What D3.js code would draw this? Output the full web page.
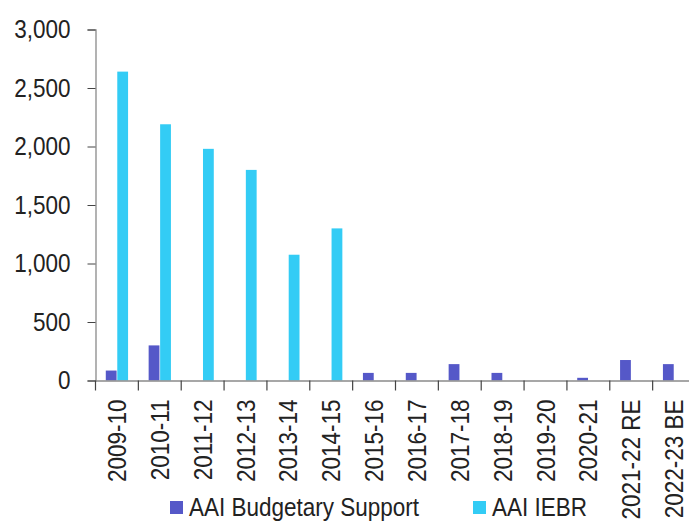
<!DOCTYPE html>
<html><head><meta charset="utf-8">
<script src="https://cdn.jsdelivr.net/npm/d3@7"></script>
<style>body{margin:0;background:#fff}text{font-family:"Liberation Sans",Arial,sans-serif;fill:#222}</style>
</head><body><svg id="c" width="689" height="524"></svg>
<script>
const categories = ["2009-10","2010-11","2011-12","2012-13","2013-14","2014-15","2015-16","2016-17","2017-18","2018-19","2019-20","2020-21","2021-22 RE","2022-23 BE"];
const budgetarySupport = [85,300,0,0,0,0,65,65,140,65,0,23,175,140];
const iebr = [2640,2190,1980,1800,1075,1300,0,0,0,0,0,0,0,0];
const seriesNames = ["AAI Budgetary Support","AAI IEBR"];
const colors = ["#5558C8","#33CCF5"];
const yTicks = [0,500,1000,1500,2000,2500,3000];

const FS = "25px", SX = 0.9;
const svg = d3.select("#c");
const x0 = d3.scaleBand().domain(categories).range([95.5,695.5]).paddingInner(0).paddingOuter(0);
const x1 = d3.scaleBand().domain(seriesNames).range([x0.bandwidth()*0.24, x0.bandwidth()*0.76]).paddingInner(0.06);
const y = d3.scaleLinear().domain([0,3000]).range([380.5,29.5]);
const fmt = d3.format(",");

const rows = categories.map((c,i)=>({c, vals:[budgetarySupport[i], iebr[i]]}));
const g = svg.append("g");
g.selectAll("g.cat").data(rows).join("g").attr("class","cat")
 .attr("transform",d=>`translate(${x0(d.c)},0)`)
 .selectAll("rect").data(d=>d.vals.map((v,j)=>({v,j}))).join("rect")
 .attr("x",d=>x1(seriesNames[d.j])).attr("width",x1.bandwidth())
 .attr("y",d=>y(d.v)).attr("height",d=>y(0)-y(d.v))
 .attr("fill",d=>colors[d.j]);

// y axis
const ya = svg.append("g").attr("transform","translate(95.5,0)")
 .call(d3.axisLeft(y).tickValues(yTicks).tickFormat(fmt).tickSize(8).tickPadding(17));
ya.select(".domain").attr("stroke","#8a8a8a").attr("stroke-width",1.3);
ya.selectAll(".tick line").attr("stroke","#444");
ya.selectAll(".tick text").attr("font-size",FS).attr("fill","#222")
 .attr("font-family","'Liberation Sans',Arial,sans-serif")
 .attr("x",-25/SX).attr("transform",`scale(${SX},1)`);

// x axis
const xa = svg.append("g").attr("transform","translate(0,380.5)")
 .call(d3.axisBottom(x0).tickSize(0).tickSizeOuter(0));
xa.select(".domain").attr("stroke","#8a8a8a").attr("stroke-width",1.3);
xa.selectAll(".tick text").attr("font-size",FS).attr("fill","#222")
 .attr("font-family","'Liberation Sans',Arial,sans-serif")
 .attr("transform",`rotate(-90) scale(${SX},1)`).attr("text-anchor","end")
 .attr("x",-19/SX).attr("y",0).attr("dy","0.36em");
// tick marks at band boundaries
svg.append("g").selectAll("line").data(categories).join("line")
 .attr("x1",d=>x0(d)).attr("x2",d=>x0(d)).attr("y1",380.5).attr("y2",390.5)
 .attr("stroke","#444").attr("stroke-width",1.2);

// legend
const leg = svg.append("g");
const lx = [170,473];
seriesNames.forEach((n,i)=>{
  leg.append("rect").attr("x",lx[i]).attr("y",501).attr("width",13).attr("height",13).attr("fill",colors[i]);
  leg.append("text").attr("x",(lx[i]+19)/SX).attr("y",516).attr("font-size",FS)
   .attr("transform",`scale(${SX},1)`).text(n);
});
</script></body></html>
